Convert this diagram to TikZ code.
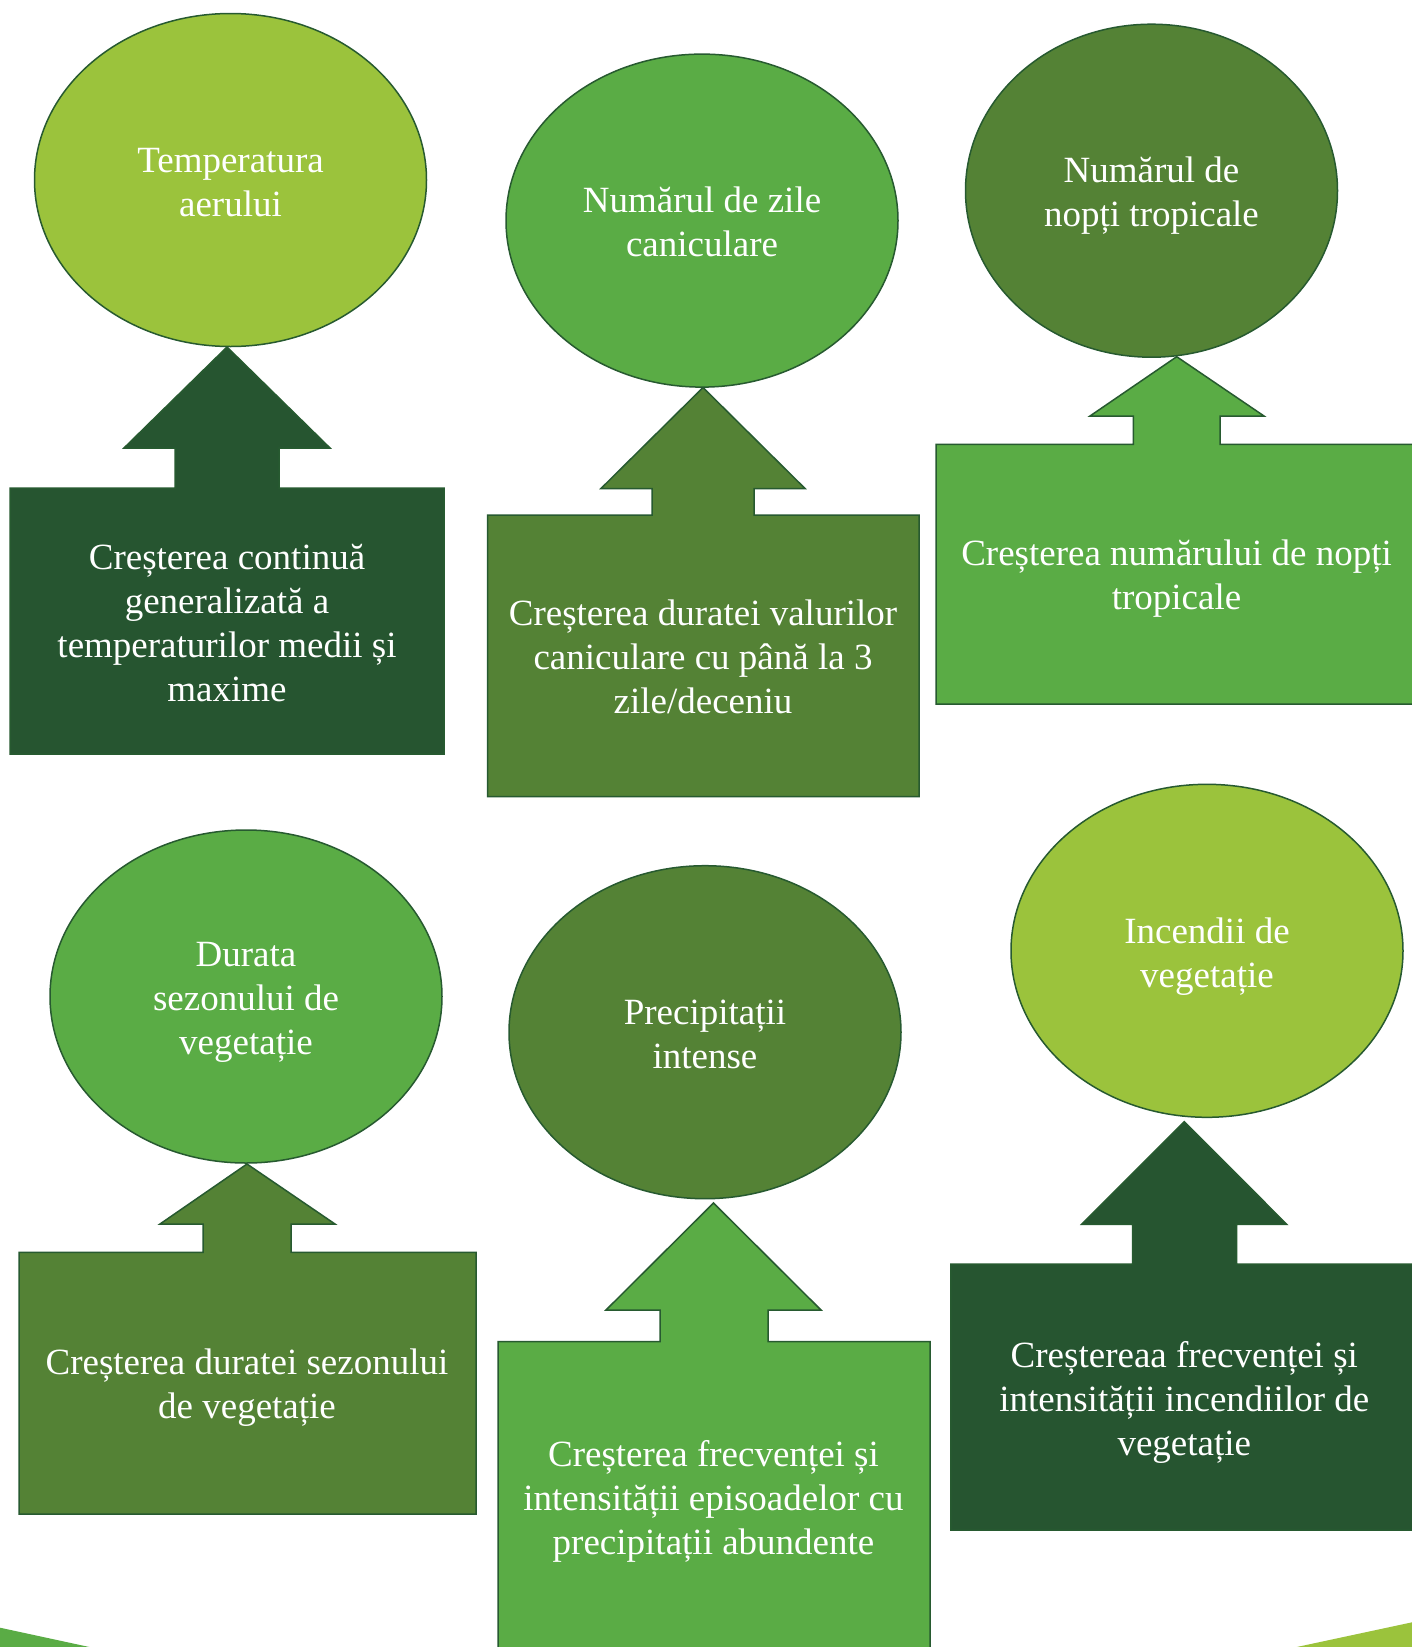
\documentclass[tikz,border=0pt]{standalone}
\usepackage{fontspec}
\setmainfont{Liberation Serif}
\usetikzlibrary{shapes.geometric}

\definecolor{verdedeschis}{HTML}{9BC33C}
\definecolor{verdemediu}{HTML}{5AAC45}
\definecolor{verdemasliniu}{HTML}{548235}
\definecolor{verdeinchis}{HTML}{265530}
\definecolor{contur}{HTML}{275A30}

\begin{document}
\begin{tikzpicture}[x=1pt,y=-1pt]

\tikzset{
    cerc/.style={
        ellipse, draw=contur, line width=1.5pt,
        minimum width=392pt, minimum height=333pt,
        inner sep=0pt
    }
}

\tikzset{
    sageata/.style={draw=contur, line width=1.5pt},
    text_alb/.style={text=white, align=center, font=\fontsize{37}{44}\selectfont}
}

% pagina
\useasboundingbox (0,0) rectangle (1412,1647);
\fill[white] (0,0) rectangle (1412,1647);

% colturi jos
\fill[verdemediu] (-5,1626.6) -- (100,1649.3) -- (-5,1649.3) -- cycle;
\fill[verdedeschis] (1287,1649.1) -- (1420,1620.6) -- (1420,1649.1) -- cycle;

% sageti si casete
\draw[sageata, fill=verdeinchis] (10,488) -- (175,488) -- (175,448) -- (124,448) -- (227,347)
    -- (330,448) -- (279,448) -- (279,488) -- (444,488) -- (444,754) -- (10,754) -- cycle;
\draw[sageata, fill=verdemasliniu] (487.5,515) -- (652,515) -- (652,488.5) -- (601,488.5) -- (703,387.5)
    -- (805,488.5) -- (754,488.5) -- (754,515) -- (919,515) -- (919,796.5) -- (487.5,796.5) -- cycle;
\draw[sageata, fill=verdemediu] (936,444.3) -- (1133.3,444.3) -- (1133.3,416) -- (1090,416) -- (1176.7,356.7)
    -- (1264,416) -- (1220,416) -- (1220,444.3) -- (1420,444.3) -- (1420,704) -- (936,704) -- cycle;

\draw[sageata, fill=verdemasliniu] (19,1252.3) -- (203,1252.3) -- (203,1224) -- (160,1224) -- (247,1164)
    -- (335,1224) -- (291,1224) -- (291,1252.3) -- (476,1252.3) -- (476,1514) -- (19,1514) -- cycle;
\draw[sageata, fill=verdemediu] (498,1341.6) -- (660,1341.6) -- (660,1310) -- (606,1310) -- (713.5,1203)
    -- (821,1310) -- (768,1310) -- (768,1341.6) -- (930,1341.6) -- (930,1660) -- (498,1660) -- cycle;
\draw[sageata, fill=verdeinchis] (950.8,1264) -- (1132.7,1264) -- (1132.7,1224.3) -- (1081.7,1224.3) -- (1184.3,1121.7)
    -- (1286.7,1224.3) -- (1236.7,1224.3) -- (1236.7,1264) -- (1420,1264) -- (1420,1530) -- (950.8,1530) -- cycle;

% elipse
\node[cerc, fill=verdedeschis] (e1) at (230.5,180) {};
\node[cerc, fill=verdemediu] (e2) at (702,220.6) {};
\node[cerc, fill=verdemasliniu, minimum width=372pt] (e3) at (1151.5,190.7) {};
\node[cerc, fill=verdemediu] (e4) at (246,996.5) {};
\node[cerc, fill=verdemasliniu] (e5) at (705,1032.2) {};
\node[cerc, fill=verdedeschis] (e6) at (1207,950.8) {};

\node[text_alb] (l1) at (230.5,183) {Temperatura\\aerului};
\node[text_alb] (l2) at (702,222) {Numărul de zile\\caniculare};
\node[text_alb] (l3) at (1151.5,196) {Numărul de\\nopți tropicale};
\node[text_alb] (l4) at (246,1002) {Durata\\sezonului de\\vegetație};
\node[text_alb] (l5) at (705,1034) {Precipitații\\intense};
\node[text_alb] (l6) at (1207,957) {Incendii de\\vegetație};

% texte casete
\node[text_alb] (t1) at (227,623) {Creșterea continuă\\generalizată a\\temperaturilor medii și\\maxime};
\node[text_alb] (t2) at (703,657) {Creșterea duratei valurilor\\caniculare cu până la 3\\zile/deceniu};
\node[text_alb] (t3) at (1176.5,579) {Creșterea numărului de nopți\\tropicale};
\node[text_alb] (t4) at (247,1388) {Creșterea duratei sezonului\\de vegetație};
\node[text_alb] (t5) at (713.5,1501.5) {Creșterea frecvenței și\\intensității episoadelor cu\\precipitații abundente};
\node[text_alb] (t6) at (1184.3,1402.5) {Creștereaa frecvenței și\\intensității incendiilor de\\vegetație};

\end{tikzpicture}
\end{document}
